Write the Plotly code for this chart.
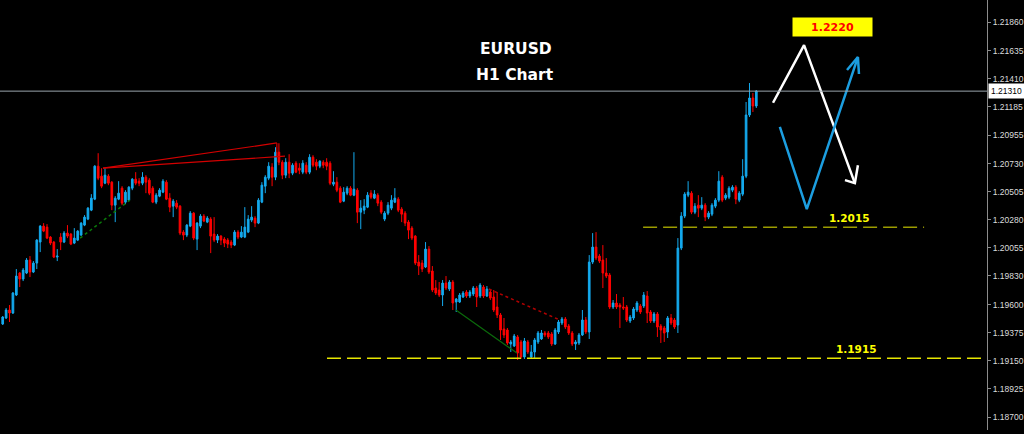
import plotly.graph_objects as go

# ---------------- data (EURUSD H1 candles) ----------------
opens = [1.19445,1.19493,1.19557,1.19533,1.19677,1.19853,1.19805,1.19853,1.19957,1.19861,
1.19933,1.20101,1.20229,1.20221,1.20141,1.20101,1.19981,1.20141,1.20101,1.20173,
1.20165,1.20093,1.20117,1.20157,1.20237,1.20285,1.20357,1.20445,1.20709,1.20629,
1.20573,1.20629,1.20581,1.20397,1.20445,1.20533,1.20421,1.20437,1.20533,1.20605,
1.20589,1.20573,1.20621,1.20597,1.20533,1.20421,1.20469,1.20501,1.20581,1.20453,
1.20389,1.20413,1.20389,1.20181,1.20157,1.20229,1.20333,1.20125,1.20229,1.20309,
1.20261,1.20285,1.20165,1.20117,1.20149,1.20125,1.20117,1.20101,1.20077,1.20181,
1.20141,1.20141,1.20181,1.20277,1.20293,1.20253,1.20421,1.20549,1.20613,1.20701,
1.20621,1.20821,1.20741,1.20637,1.20741,1.20653,1.20733,1.20693,1.20661,1.20717,
1.20661,1.20781,1.20741,1.20709,1.20741,1.20741,1.20733,1.20565,1.20581,1.20533,
1.20429,1.20493,1.20533,1.20477,1.20517,1.20341,1.20357,1.20381,1.20493,1.20453,
1.20477,1.20421,1.20285,1.20333,1.20373,1.20421,1.20445,1.20365,1.20333,1.20261,
1.20213,1.20149,1.19941,1.19933,1.19901,1.20045,1.19869,1.19733,1.19717,1.19677,
1.19773,1.19725,1.19781,1.19621,1.19621,1.19661,1.19701,1.19669,1.19685,1.19733,
1.19669,1.19741,1.19669,1.19701,1.19661,1.19581,1.19517,1.19405,1.19397,1.19285,
1.19269,1.19341,1.19301,1.19181,1.19301,1.19181,1.19221,1.19301,1.19325,1.19373,
1.19373,1.19365,1.19285,1.19381,1.19453,1.19485,1.19429,1.19373,1.19285,1.19293,
1.19357,1.19477,1.19381,1.19941,1.20061,1.19989,1.19957,1.19853,1.19837,1.19581,
1.19613,1.19597,1.19581,1.19581,1.19469,1.19493,1.19557,1.19589,1.19589,1.19669,
1.19541,1.19469,1.19525,1.19429,1.19413,1.19381,1.19493,1.19477,1.19437,1.20053,
1.20309,1.20477,1.20493,1.20341,1.20397,1.20373,1.20397,1.20301,1.20325,1.20389,
1.20437,1.20621,1.20453,1.20461,1.20517,1.20541,1.20437,1.20485,1.20629,1.21119,
1.21255,1.21191]
highs = [1.19509,1.19573,1.19597,1.19701,1.19885,1.19861,1.19893,1.19973,1.19989,1.19949,
1.20125,1.20237,1.20253,1.20245,1.20149,1.20109,1.20045,1.20173,1.20189,1.20237,
1.20173,1.20213,1.20197,1.20261,1.20317,1.20381,1.20485,1.20717,1.20813,1.20693,
1.20693,1.20645,1.20589,1.20469,1.20589,1.20549,1.20517,1.20549,1.20613,1.20661,
1.20613,1.20661,1.20637,1.20613,1.20549,1.20493,1.20533,1.20605,1.20597,1.20493,
1.20445,1.20437,1.20397,1.20197,1.20245,1.20349,1.20341,1.20261,1.20325,1.20325,
1.20309,1.20301,1.20301,1.20165,1.20157,1.20141,1.20133,1.20117,1.20197,1.20197,
1.20229,1.20381,1.20317,1.20389,1.20309,1.20453,1.20581,1.20637,1.20741,1.20733,
1.20861,1.20893,1.20757,1.20773,1.20805,1.20733,1.20749,1.20733,1.20757,1.20741,
1.20805,1.20797,1.20765,1.20757,1.20757,1.20773,1.20749,1.20669,1.20621,1.20549,
1.20541,1.20549,1.20549,1.20821,1.20533,1.20437,1.20445,1.20501,1.20517,1.20517,
1.20493,1.20437,1.20349,1.20421,1.20477,1.20533,1.20461,1.20381,1.20349,1.20277,
1.20229,1.20157,1.19997,1.19957,1.20101,1.20069,1.19909,1.19797,1.19781,1.19797,
1.19829,1.19797,1.19797,1.19653,1.19693,1.19709,1.19717,1.19717,1.19749,1.19749,
1.19773,1.19757,1.19749,1.19725,1.19717,1.19701,1.19533,1.19493,1.19413,1.19317,
1.19365,1.19357,1.19317,1.19333,1.19317,1.19277,1.19333,1.19389,1.19397,1.19389,
1.19389,1.19381,1.19413,1.19477,1.19501,1.19501,1.19445,1.19389,1.19317,1.19373,
1.19557,1.19501,1.19997,1.20173,1.20181,1.20005,1.20077,1.19973,1.19853,1.19637,
1.19685,1.19613,1.19661,1.19597,1.19517,1.19581,1.19629,1.19605,1.19701,1.19709,
1.19557,1.19541,1.19541,1.19445,1.19429,1.19509,1.19525,1.19493,1.20133,1.20341,
1.20501,1.20589,1.20509,1.20413,1.20477,1.20461,1.20413,1.20349,1.20413,1.20453,
1.20669,1.20637,1.20493,1.20549,1.20557,1.20557,1.20509,1.20765,1.21223,1.21375,
1.21295,1.21319]
lows = [1.19437,1.19485,1.19461,1.19525,1.19669,1.19741,1.19789,1.19845,1.19821,1.19853,
1.19885,1.20021,1.20181,1.20125,1.20077,1.19973,1.19949,1.20037,1.20093,1.20133,
1.20077,1.20085,1.20109,1.20149,1.20229,1.20277,1.20349,1.20437,1.20597,1.20533,
1.20565,1.20557,1.20357,1.20261,1.20437,1.20397,1.20405,1.20429,1.20517,1.20557,
1.20549,1.20557,1.20493,1.20477,1.20413,1.20405,1.20461,1.20493,1.20437,1.20341,
1.20301,1.20365,1.20157,1.20117,1.20141,1.20221,1.20117,1.20037,1.20213,1.20261,
1.20253,1.20013,1.20101,1.20093,1.20077,1.20061,1.20053,1.20053,1.20069,1.20125,
1.20133,1.20133,1.20173,1.20261,1.20221,1.20245,1.20413,1.20493,1.20597,1.20549,
1.20597,1.20717,1.20605,1.20613,1.20613,1.20637,1.20653,1.20645,1.20645,1.20645,
1.20645,1.20701,1.20677,1.20693,1.20693,1.20677,1.20557,1.20549,1.20501,1.20413,
1.20421,1.20477,1.20469,1.20469,1.20253,1.20205,1.20325,1.20373,1.20445,1.20445,
1.20389,1.20325,1.20269,1.20317,1.20357,1.20413,1.20341,1.20261,1.20229,1.20125,
1.20117,1.19917,1.19837,1.19861,1.19893,1.19845,1.19701,1.19677,1.19661,1.19589,
1.19717,1.19709,1.19557,1.19541,1.19613,1.19653,1.19653,1.19653,1.19669,1.19581,
1.19653,1.19653,1.19661,1.19637,1.19541,1.19493,1.19317,1.19333,1.19277,1.19221,
1.19261,1.19157,1.19165,1.19165,1.19205,1.19173,1.19173,1.19285,1.19317,1.19341,
1.19325,1.19269,1.19277,1.19365,1.19437,1.19405,1.19357,1.19269,1.19237,1.19277,
1.19349,1.19365,1.19325,1.19925,1.19957,1.19933,1.19733,1.19813,1.19565,1.19565,
1.19565,1.19413,1.19557,1.19461,1.19453,1.19477,1.19541,1.19525,1.19573,1.19453,
1.19453,1.19453,1.19341,1.19293,1.19301,1.19333,1.19437,1.19405,1.19373,1.20037,
1.20293,1.20461,1.20325,1.20325,1.20301,1.20357,1.20269,1.20285,1.20309,1.20373,
1.20421,1.20421,1.20437,1.20445,1.20501,1.20405,1.20421,1.20469,1.20613,1.21103,
1.21143,1.21175]
closes = [1.19501,1.19557,1.19533,1.19693,1.19829,1.19805,1.19877,1.19957,1.19861,1.19933,
1.20117,1.20229,1.20189,1.20133,1.20093,1.19981,1.19989,1.20101,1.20173,1.20149,
1.20085,1.20133,1.20189,1.20253,1.20301,1.20373,1.20453,1.20709,1.20613,1.20549,
1.20637,1.20573,1.20397,1.20453,1.20493,1.20413,1.20501,1.20541,1.20605,1.20573,
1.20573,1.20621,1.20581,1.20493,1.20421,1.20477,1.20517,1.20589,1.20445,1.20381,
1.20429,1.20381,1.20173,1.20157,1.20237,1.20333,1.20133,1.20253,1.20309,1.20269,
1.20293,1.20149,1.20117,1.20149,1.20117,1.20093,1.20085,1.20077,1.20181,1.20141,
1.20181,1.20221,1.20285,1.20301,1.20253,1.20437,1.20557,1.20621,1.20709,1.20621,
1.20821,1.20741,1.20637,1.20741,1.20653,1.20717,1.20661,1.20677,1.20733,1.20661,
1.20781,1.20717,1.20709,1.20749,1.20717,1.20709,1.20573,1.20581,1.20517,1.20421,
1.20501,1.20533,1.20477,1.20525,1.20341,1.20373,1.20389,1.20477,1.20461,1.20485,
1.20413,1.20341,1.20333,1.20397,1.20437,1.20453,1.20357,1.20325,1.20253,1.20197,
1.20133,1.19933,1.19909,1.19885,1.20045,1.19861,1.19717,1.19693,1.19677,1.19773,
1.19733,1.19781,1.19613,1.19645,1.19677,1.19693,1.19669,1.19701,1.19733,1.19661,
1.19757,1.19669,1.19725,1.19653,1.19557,1.19517,1.19397,1.19357,1.19293,1.19301,
1.19349,1.19213,1.19181,1.19309,1.19221,1.19221,1.19317,1.19373,1.19373,1.19357,
1.19341,1.19285,1.19397,1.19461,1.19485,1.19421,1.19373,1.19285,1.19301,1.19357,
1.19477,1.19381,1.19941,1.20061,1.19973,1.19949,1.19853,1.19829,1.19581,1.19613,
1.19581,1.19581,1.19573,1.19477,1.19501,1.19565,1.19613,1.19541,1.19677,1.19533,
1.19469,1.19525,1.19421,1.19397,1.19373,1.19493,1.19453,1.19421,1.20053,1.20309,
1.20485,1.20501,1.20341,1.20389,1.20373,1.20397,1.20301,1.20333,1.20397,1.20437,
1.20589,1.20437,1.20477,1.20533,1.20541,1.20445,1.20493,1.20629,1.21119,1.21255,
1.21191,1.21310]
bar_index = list(range(len(closes)))

# price axis
tick_vals = [1.21860,1.21635,1.21410,1.21185,1.20955,1.20730,1.20505,1.20280,
             1.20055,1.19830,1.19600,1.19375,1.19150,1.18925,1.18700]
tick_text = ["%.5f" % v for v in tick_vals]
current_price = 1.21310

# drawn levels / labels
support_level = 1.1917        # drawn line labelled "1.1915"
mid_level = 1.2022            # drawn line labelled "1.2015"
support_label = "1.1915"
mid_label = "1.2015"
target_label = "1.2220"

# drawing-tool lines (bar index, price)
red_channel_x = [29.4, 80.4, None, 29.4, 82.8, None, 80.4, 80.4]
red_channel_y = [1.20693, 1.20895, None, 1.20693, 1.20789, None, 1.20895, 1.20781]
green_dot_x = [22.7, 37.3]
green_dot_y = [1.20133, 1.20437]
green_solid_x = [132.9, 150.8]
green_solid_y = [1.19557, 1.19212]
red_dot_x = [142.6, 163.4]
red_dot_y = [1.19725, 1.19477]
white_path_x = [225.9, 235.0, 249.9, None, 247.0, 249.9, 250.8]
white_path_y = [1.21217, 1.21679, 1.20573, None, 1.20597, 1.20573, 1.20717]
blue_path_x = [227.9, 235.8, 250.8, None, 247.6, 250.8, 251.1]
blue_path_y = [1.21023, 1.20365, 1.21583, None, 1.21479, 1.21583, 1.21447]

BLUE = "#14aaee"
RED = "#ff0000"
X_RANGE = [-0.79, 288.65]
Y_RANGE = [1.18596, 1.22040]

fig = go.Figure()
fig.add_trace(go.Candlestick(
    x=bar_index, open=opens, high=highs, low=lows, close=closes,
    increasing=dict(line=dict(color=BLUE, width=1), fillcolor=BLUE),
    decreasing=dict(line=dict(color=RED, width=1), fillcolor=RED),
    whiskerwidth=0, hoverinfo="skip", showlegend=False))

def add_line(xs, ys, color, width, dash="solid"):
    fig.add_trace(go.Scatter(x=xs, y=ys, mode="lines", hoverinfo="skip",
                             showlegend=False,
                             line=dict(color=color, width=width, dash=dash)))

add_line(red_channel_x, red_channel_y, "#d40000", 1.2)
add_line(green_dot_x, green_dot_y, "#0a7a0a", 1.5, "dot")
add_line(green_solid_x, green_solid_y, "#0b6b0b", 1.2)
add_line(red_dot_x, red_dot_y, "#b00000", 1.5, "dot")
add_line(white_path_x, white_path_y, "#ffffff", 2.5)
add_line(blue_path_x, blue_path_y, "#1c9ee0", 2.5)

shapes = [
    dict(type="line", xref="paper", yref="y", x0=0, x1=1,
         y0=current_price, y1=current_price, line=dict(color="#9aa4ad", width=1)),
    dict(type="line", xref="x", yref="y", x0=95.1, x1=X_RANGE[1],
         y0=support_level, y1=support_level,
         line=dict(color="#e6e600", width=1.5, dash="14px,6px")),
    dict(type="line", xref="x", yref="y", x0=187.8, x1=270.2,
         y0=mid_level, y1=mid_level,
         line=dict(color="#9c9c00", width=1.5, dash="14px,6px")),
]

annotations = [
    dict(text="<b>EURUSD</b>", xref="paper", yref="paper", x=0.5228, y=0.9116,
         showarrow=False, font=dict(family="DejaVu Sans", size=15.5, color="#ffffff")),
    dict(text="<b>H1 Chart</b>", xref="paper", yref="paper", x=0.5218, y=0.851,
         showarrow=False, font=dict(family="DejaVu Sans", size=15.5, color="#ffffff")),
    dict(text="<b>%s</b>" % target_label, xref="x", yref="y", x=243.2, y=1.21827,
         showarrow=False, bgcolor="#ffff00", width=79, height=18, borderpad=0,
         font=dict(family="DejaVu Sans", size=11, color="#ff0000")),
    dict(text="<b>%s</b>" % mid_label, xref="x", yref="y", x=248.2, y=1.20297,
         showarrow=False, font=dict(family="DejaVu Sans", size=10.5, color="#ffff00")),
    dict(text="<b>%s</b>" % support_label, xref="x", yref="y", x=250.5, y=1.19246,
         showarrow=False, font=dict(family="DejaVu Sans", size=10.5, color="#ffff00")),
    dict(text="%.5f" % current_price, xref="paper", yref="y", x=1, y=current_price,
         xanchor="left", xshift=1, showarrow=False, bgcolor="#ffffff", borderpad=2,
         font=dict(family="Liberation Sans, Arial", size=8.5, color="#000000")),
]

fig.update_layout(
    width=1024, height=434,
    margin=dict(l=0, r=37, t=0, b=4, pad=0),
    paper_bgcolor="#000000", plot_bgcolor="#000000",
    showlegend=False,
    xaxis=dict(range=X_RANGE, visible=False, rangeslider=dict(visible=False),
               showgrid=False, zeroline=False),
    yaxis=dict(range=Y_RANGE, side="right", tickvals=tick_vals, ticktext=tick_text,
               showgrid=False, zeroline=False, showline=True, linecolor="#8c8c8c",
               linewidth=1, ticks="outside", ticklen=3, tickcolor="#8c8c8c",
               tickfont=dict(family="Liberation Sans, Arial", size=8.5, color="#dcdcdc")),
    shapes=shapes, annotations=annotations,
)

fig.write_html("out.html", config={"displayModeBar": False},
               post_script="document.body.style.margin='0';document.body.style.background='#000';")
